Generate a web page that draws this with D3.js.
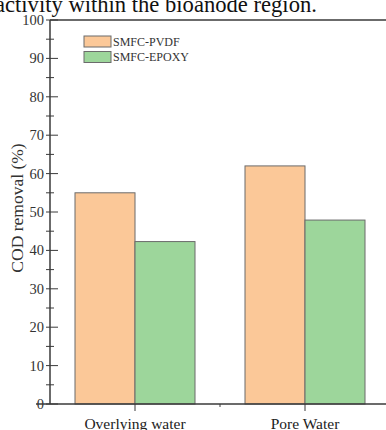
<!DOCTYPE html>
<html>
<head>
<meta charset="utf-8">
<script src="https://cdn.jsdelivr.net/npm/d3@7"></script>
<style>
  body { margin: 0; background: #fff; }
  svg { display: block; }
</style>
</head>
<body>
<svg></svg>
<script>
var categories = ['Overlying water', 'Pore Water'];
var seriesNames = ['SMFC-PVDF', 'SMFC-EPOXY'];
var pvdfValues = [55.0, 62.0];
var epoxyValues = [42.3, 47.9];
var yTicks = [0, 10, 20, 30, 40, 50, 60, 70, 80, 90, 100];
var colors = ['#fbc898', '#9dd69b'];

function start() {
    var svg = d3.select('svg')
        .attr('width', 386)
        .attr('height', 430);

    var font = '"Liberation Serif", "Times New Roman", serif';
    var axisColor = '#3a3a3a';

    // caption line from the paper, cut at the top
    svg.append('text')
        .attr('x', -5)
        .attr('y', 12)
        .style('font-family', font)
        .style('font-size', '22.6px')
        .attr('fill', '#111')
        .text('activity within the bioanode region.');

    var x = d3.scalePoint()
        .domain(categories)
        .range([50, 390])
        .padding(0.5);

    var y = d3.scaleLinear()
        .domain([0, 100])
        .range([404, 20]);

    var barW = 60;
    var series = [pvdfValues, epoxyValues];

    var g = svg.append('g');
    series.forEach(function (vals, si) {
        g.selectAll('rect.s' + si)
            .data(vals)
            .enter().append('rect')
            .attr('class', 's' + si)
            .attr('x', function (d, i) { return x(categories[i]) - barW + si * barW; })
            .attr('y', function (d) { return y(d); })
            .attr('width', barW)
            .attr('height', function (d) { return y(0) - y(d); })
            .attr('fill', colors[si])
            .attr('stroke', '#6b6b6b')
            .attr('stroke-width', 1);
    });

    // top frame line
    svg.append('line')
        .attr('x1', 50).attr('x2', 386)
        .attr('y1', y(100)).attr('y2', y(100))
        .attr('stroke', axisColor).attr('stroke-width', 1.5);

    // y axis
    var yAxis = svg.append('g');
    yAxis.append('line')
        .attr('x1', 50).attr('x2', 50)
        .attr('y1', y(100)).attr('y2', y(0))
        .attr('stroke', axisColor).attr('stroke-width', 1.5);

    var minor = d3.range(5, 100, 10);
    yAxis.selectAll('line.minor')
        .data(minor)
        .enter().append('line')
        .attr('class', 'minor')
        .attr('x1', 46).attr('x2', 54)
        .attr('y1', function (d) { return y(d); })
        .attr('y2', function (d) { return y(d); })
        .attr('stroke', axisColor).attr('stroke-width', 1);

    yAxis.selectAll('line.major')
        .data(yTicks)
        .enter().append('line')
        .attr('class', 'major')
        .attr('x1', 46).attr('x2', 58)
        .attr('y1', function (d) { return y(d); })
        .attr('y2', function (d) { return y(d); })
        .attr('stroke', axisColor).attr('stroke-width', 1);

    yAxis.selectAll('text')
        .data(yTicks)
        .enter().append('text')
        .attr('x', 44)
        .attr('y', function (d) { return y(d) + 5; })
        .attr('text-anchor', 'end')
        .style('font-family', font)
        .style('font-size', '14.5px')
        .attr('fill', '#333')
        .text(function (d) { return d; });

    svg.append('text')
        .attr('transform', 'translate(23,208) rotate(-90)')
        .attr('text-anchor', 'middle')
        .style('font-family', font)
        .style('font-size', '17.5px')
        .attr('fill', '#333')
        .text('COD removal (%)');

    // x axis
    var xAxis = svg.append('g');
    xAxis.append('line')
        .attr('x1', 36).attr('x2', 386)
        .attr('y1', y(0)).attr('y2', y(0))
        .attr('stroke', axisColor).attr('stroke-width', 1.5);

    xAxis.selectAll('line.cat')
        .data(categories)
        .enter().append('line')
        .attr('class', 'cat')
        .attr('x1', function (d) { return x(d); })
        .attr('x2', function (d) { return x(d); })
        .attr('y1', y(0)).attr('y2', y(0) + 7)
        .attr('stroke', axisColor).attr('stroke-width', 1);

    xAxis.append('line')
        .attr('x1', (x(categories[0]) + x(categories[1])) / 2)
        .attr('x2', (x(categories[0]) + x(categories[1])) / 2)
        .attr('y1', y(0)).attr('y2', y(0) + 3)
        .attr('stroke', axisColor).attr('stroke-width', 1);

    xAxis.selectAll('text')
        .data(categories)
        .enter().append('text')
        .attr('x', function (d) { return x(d); })
        .attr('y', 429)
        .attr('text-anchor', 'middle')
        .style('font-family', font)
        .style('font-size', '15.5px')
        .attr('fill', '#222')
        .text(function (d) { return d; });

    // legend
    var legend = svg.append('g');
    legend.selectAll('rect')
        .data(seriesNames)
        .enter().append('rect')
        .attr('x', 84)
        .attr('y', function (d, i) { return 36 + i * 15.5; })
        .attr('width', 27)
        .attr('height', 11)
        .attr('fill', function (d, i) { return colors[i]; })
        .attr('stroke', '#6b6b6b');

    legend.selectAll('text')
        .data(seriesNames)
        .enter().append('text')
        .attr('x', 113)
        .attr('y', function (d, i) { return 46 + i * 15; })
        .style('font-family', font)
        .style('font-size', '12px')
        .attr('fill', '#333')
        .text(function (d) { return d; });
}

start();
</script>
</body>
</html>
